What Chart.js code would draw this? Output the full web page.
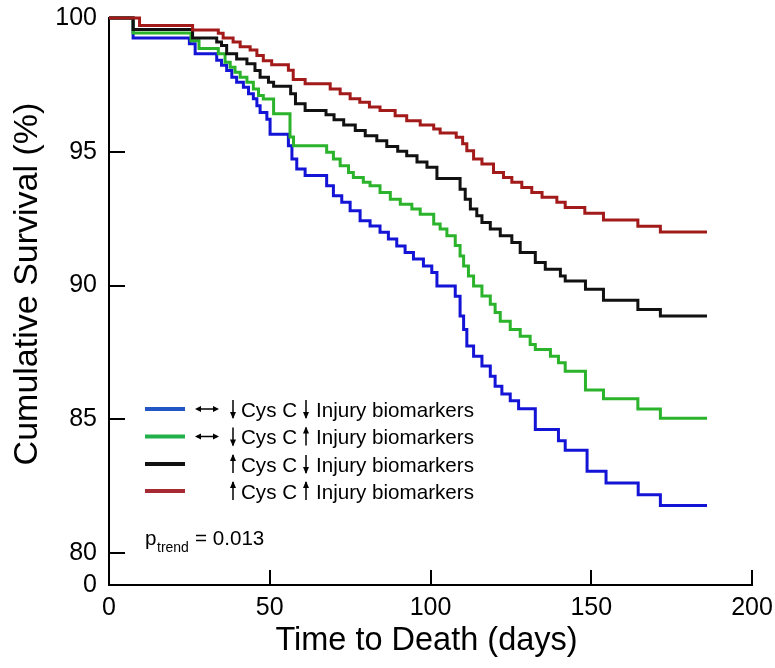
<!DOCTYPE html>
<html><head><meta charset="utf-8">
<script src="https://cdn.jsdelivr.net/npm/chart.js@4.4.1/dist/chart.umd.min.js"></script>
<style>html,body{margin:0;padding:0;background:#fff;}#wrap{width:775px;height:668px;}</style>
</head><body><div id="wrap"><canvas id="c" width="775" height="668"></canvas></div>
<script>
// ---- data ----
const seriesLabels = ['\u2194 \u2193Cys C \u2193 Injury biomarkers','\u2194 \u2193Cys C \u2191 Injury biomarkers','\u2191Cys C \u2193 Injury biomarkers','\u2191Cys C \u2191 Injury biomarkers'];
const pairedArrow = [true, true, false, false];
const cysDir = ['down','down','up','up'];
const injDir = ['down','up','down','up'];
const legendWords = ['Cys C', 'Injury biomarkers'];
const pTrendText = ['p', 'trend', '= 0.013'];
const xTitle = 'Time to Death (days)';
const yTitle = 'Cumulative Survival (%)';
const xTicks = [0, 50, 100, 150, 200];
const yTicks = [80, 85, 90, 95, 100];
const yBreakMin = 78.81;
const yBreakLabel = '0';

const blueDays = [0,7.5,25,26.8,33.5,35,36.6,38.2,39.7,41.8,43.4,44.9,46,47,49.1,50.1,55.8,56.9,58.4,61,67.7,69.8,72.4,75,78.1,81.2,84.3,86.9,89.5,92.1,94.7,97.8,100.4,102,107.7,109.2,110.3,111.3,113.4,116,118.6,120.1,122.2,124.8,127.4,132.6,139.8,141.9,148.7,154.6,164.6,171.5,186];
const blueSurv = [100,99.25,99.04,98.66,98.42,98.23,98.04,97.79,97.6,97.41,97.17,96.98,96.72,96.47,96.22,95.66,95.23,94.73,94.36,94.11,93.73,93.36,93.11,92.8,92.42,92.23,91.99,91.74,91.48,91.24,90.99,90.73,90.49,89.98,89.6,88.86,88.36,87.74,87.36,86.99,86.61,86.24,85.95,85.7,85.4,84.62,84.2,83.85,83.06,82.62,82.18,81.78,81.78];

const greenDays = [0,7.5,25.5,28,34,36.1,37.7,39.2,40.8,42.9,44.9,46.5,48,51.2,56.3,57.4,67.7,69.8,71.9,74.5,76,79.1,81.2,84.3,87.5,90.6,94.2,96.8,101,103,105.1,107.7,109.2,110.3,111.8,113.4,116,118.6,120.1,121.7,124.8,127.9,131,132.6,137.3,139.8,141.9,148.2,153.8,164.5,171.5,186];
const greenSurv = [100,99.44,99.15,98.86,98.66,98.35,98.16,97.97,97.79,97.6,97.35,97.1,96.97,96.42,95.55,95.23,94.98,94.73,94.48,94.23,94.04,93.86,93.73,93.48,93.23,93.04,92.86,92.67,92.3,92.11,91.86,91.5,91.11,90.73,90.36,89.98,89.61,89.3,88.99,88.67,88.36,88.11,87.8,87.61,87.36,87.12,86.8,86.1,85.77,85.39,85.04,85.04];

const blackDays = [0,7.5,26,33.5,35,36.6,39.7,42.9,45.4,47,49.6,51.2,56.5,58,61,67.5,70,73,76.6,79.7,83.3,86.4,89.8,92.6,95.8,98.9,102,109.2,110.8,112.4,114.4,116,118.6,121.7,125.3,127.9,132.6,135.7,140.4,141.9,148.2,153.8,164.5,171.5,186];
const blackSurv = [100,99.57,99.25,99.1,98.97,98.66,98.47,98.29,98.04,97.79,97.6,97.45,97.17,96.8,96.54,96.38,96.2,96.0,95.8,95.6,95.41,95.2,95.02,94.85,94.62,94.42,94.0,93.6,93.23,92.86,92.61,92.36,92.11,91.86,91.61,91.24,90.86,90.61,90.36,90.17,89.86,89.45,89.11,88.86,88.86];

const redDays = [0,9.5,26,34,35.5,38.6,40.8,43.9,46,48,50.6,55.8,57.3,61,68.8,71.9,75,78,81,84.3,89,92.6,96.8,101,103,108,110,111.3,113.4,116,119.6,122.7,125.3,128.4,131.5,134.7,139.3,141.9,148,153.8,164.5,171.5,186];
const redSurv = [100,99.72,99.55,99.43,99.25,99.1,98.93,98.8,98.6,98.4,98.25,98.05,97.7,97.54,97.35,97.17,96.98,96.85,96.67,96.54,96.35,96.16,96.0,95.85,95.7,95.54,95.3,95.04,94.73,94.54,94.23,94.04,93.86,93.67,93.48,93.3,93.11,92.92,92.7,92.45,92.22,92.0,92.0];

// ---- styles ----
const FONT = "'Liberation Sans', Arial, Helvetica, sans-serif";
const lineColors = ['#1414d6', '#2bb32b', '#111111', '#a31a1a'];
const legendColors = ['#2256c4', '#22b04a', '#111111', '#a52a33'];
const allDays = [blueDays, greenDays, blackDays, redDays];
const allSurv = [blueSurv, greenSurv, blackSurv, redSurv];

const datasets = allDays.map((days, i) => ({
  label: seriesLabels[i],
  data: days.map((d, j) => ({x: d, y: allSurv[i][j]})),
  borderColor: lineColors[i],
  backgroundColor: lineColors[i],
  borderWidth: 3,
  pointRadius: 0,
  stepped: 'before',
  fill: false,
  clip: 6,
  order: 4 - i
}));

function vArrow(ctx, x, yc, dir) {
  const top = yc - 9, bot = yc + 9;
  ctx.beginPath(); ctx.moveTo(x, top); ctx.lineTo(x, bot); ctx.stroke();
  ctx.beginPath();
  if (dir === 'down') { ctx.moveTo(x - 3, bot - 6); ctx.lineTo(x + 3, bot - 6); ctx.lineTo(x, bot + 1); }
  else { ctx.moveTo(x - 3, top + 6); ctx.lineTo(x + 3, top + 6); ctx.lineTo(x, top - 1); }
  ctx.closePath(); ctx.fill();
}
function hArrow(ctx, x1, x2, y) {
  ctx.beginPath(); ctx.moveTo(x1 + 2, y); ctx.lineTo(x2 - 2, y); ctx.stroke();
  ctx.beginPath(); ctx.moveTo(x1, y); ctx.lineTo(x1 + 6, y - 3); ctx.lineTo(x1 + 6, y + 3); ctx.closePath(); ctx.fill();
  ctx.beginPath(); ctx.moveTo(x2, y); ctx.lineTo(x2 - 6, y - 3); ctx.lineTo(x2 - 6, y + 3); ctx.closePath(); ctx.fill();
}

const decor = {
  id: 'decor',
  afterDraw(chart) {
    const {ctx, chartArea: ca, scales: {x, y}} = chart;
    ctx.save();
    // inward ticks
    ctx.strokeStyle = '#000'; ctx.lineWidth = 2;
    yTicks.filter(v => v < 100).forEach(v => {
      const py = Math.round(y.getPixelForValue(v));
      ctx.beginPath(); ctx.moveTo(ca.left, py); ctx.lineTo(ca.left + 16, py); ctx.stroke();
    });
    xTicks.filter(v => v > 0).forEach(v => {
      const px = Math.round(x.getPixelForValue(v));
      ctx.beginPath(); ctx.moveTo(px, ca.bottom); ctx.lineTo(px, ca.bottom - 15); ctx.stroke();
    });
    // axis titles
    ctx.fillStyle = '#000';
    ctx.textAlign = 'center'; ctx.textBaseline = 'middle';
    ctx.font = '32.5px ' + FONT;
    ctx.fillText(xTitle, (ca.left + ca.right) / 2 - 4, 641);
    ctx.font = '34px ' + FONT;
    ctx.save(); ctx.translate(28, 284); ctx.rotate(-Math.PI / 2); ctx.fillText(yTitle, 0, 0); ctx.restore();
    // legend
    const L = ca.left;
    const rowY = [409, 436.5, 464, 491];
    ctx.textAlign = 'left'; ctx.textBaseline = 'alphabetic';
    ctx.font = '20.6px ' + FONT;
    for (let i = 0; i < 4; i++) {
      const yc = rowY[i];
      ctx.strokeStyle = legendColors[i]; ctx.lineWidth = 4;
      ctx.beginPath(); ctx.moveTo(L + 36, yc); ctx.lineTo(L + 76, yc); ctx.stroke();
      ctx.strokeStyle = '#000'; ctx.fillStyle = '#000'; ctx.lineWidth = 1.5;
      if (pairedArrow[i]) hArrow(ctx, L + 86, L + 110, yc);
      vArrow(ctx, L + 124, yc, cysDir[i]);
      ctx.fillText(legendWords[0], L + 132, yc + 7.5);
      vArrow(ctx, L + 197, yc, injDir[i]);
      ctx.fillText(legendWords[1], L + 207, yc + 7.5);
    }
    // p trend
    ctx.font = '20.6px ' + FONT;
    ctx.fillText(pTrendText[0], L + 36, 545);
    ctx.font = '14px ' + FONT;
    ctx.fillText(pTrendText[1], L + 48, 551.5);
    ctx.font = '20.6px ' + FONT;
    ctx.fillText(pTrendText[2], L + 86, 545);
    ctx.restore();
  }
};

new Chart(document.getElementById('c'), {
  type: 'line',
  data: {datasets},
  options: {
    responsive: false,
    animation: false,
    devicePixelRatio: 1,
    layout: {padding: {left: 0, top: 18, right: 23, bottom: 0}},
    plugins: {legend: {display: false}, tooltip: {enabled: false}},
    scales: {
      x: {
        type: 'linear', min: xTicks[0], max: xTicks[xTicks.length - 1],
        afterBuildTicks: s => { s.ticks = xTicks.map(v => ({value: v})); },
        afterFit: s => { s.height = 83; s.paddingLeft = 0; s.paddingRight = 0; },
        grid: {display: false, drawTicks: false},
        border: {display: true, color: '#000', width: 2},
        ticks: {color: '#000', font: {size: 25, family: FONT}, padding: 8, autoSkip: false, maxRotation: 0}
      },
      y: {
        type: 'linear', min: yBreakMin, max: 100,
        afterBuildTicks: s => { s.ticks = [{value: yBreakMin}].concat(yTicks.map(v => ({value: v}))); },
        afterFit: s => { s.width = 109; s.paddingTop = 0; s.paddingBottom = 0; },
        grid: {display: false, drawTicks: false},
        border: {display: true, color: '#000', width: 2},
        ticks: {color: '#000', font: {size: 25, family: FONT}, padding: 12, autoSkip: false,
          callback: v => (v < 79 ? yBreakLabel : String(v))}
      }
    }
  },
  plugins: [decor]
});
</script>
</body></html>
